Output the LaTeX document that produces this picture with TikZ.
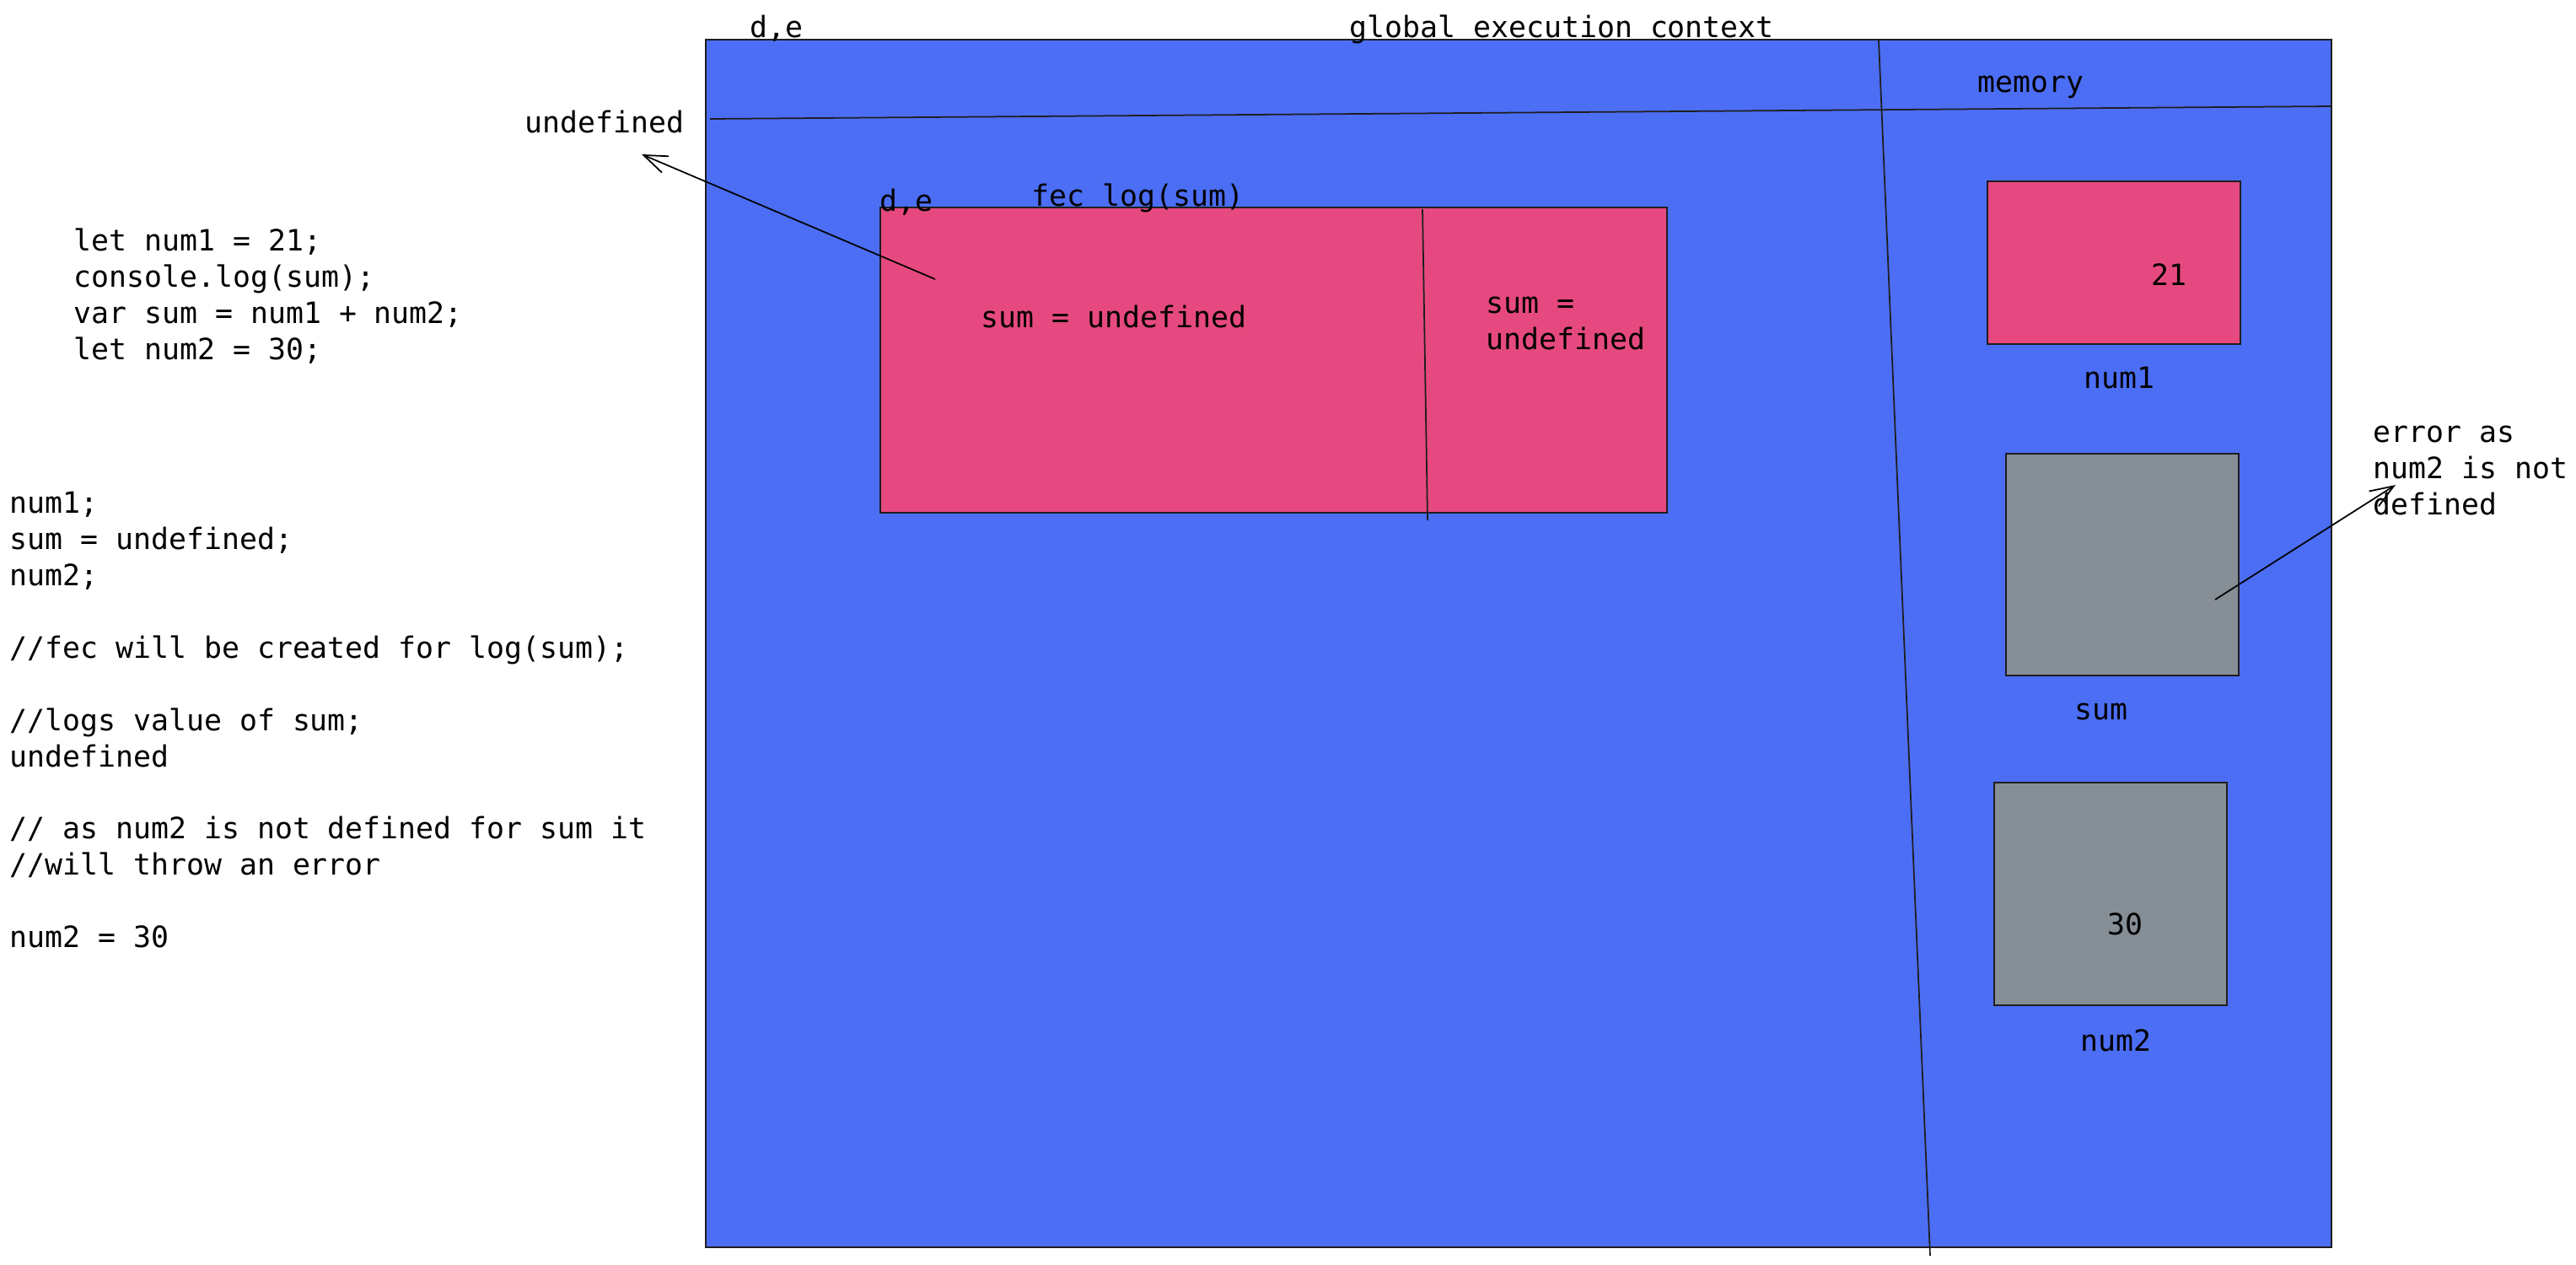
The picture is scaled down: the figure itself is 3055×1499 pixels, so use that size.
\documentclass[tikz,border=0pt]{standalone}
\usepackage{fontspec}
\setmonofont{DejaVu Sans Mono}
\usepackage{tikz}
\usetikzlibrary{arrows.meta}
\usetikzlibrary{positioning}
\definecolor{gecblue}{HTML}{4C6EF5}
\definecolor{fecpink}{HTML}{E64980}
\definecolor{memgray}{HTML}{868E96}
\definecolor{inkline}{HTML}{1E1E1E}
\newcommand{\codefont}{\ttfamily\fontsize{9.9}{12.2}\selectfont}
\tikzset{
  box/.style={draw=inkline, line width=0.6pt, anchor=north west, inner sep=0pt},
  txt/.style={font=\codefont, inner sep=0pt, anchor=base west},
  para/.style={font=\codefont, inner sep=0pt, anchor=north west, align=left},
  divider/.style={draw=inkline, line width=0.5pt},
  pointer/.style={draw=black, line width=0.5pt, -{Straight Barb[length=0.28cm,width=0.21cm]}},
}

\begin{document}
\begin{tikzpicture}[x=0.01cm, y=-0.01cm]
  \useasboundingbox (0,0) rectangle (3055,1499);

  % global execution context with its memory column
  \node[box, fill=gecblue, minimum width=19.27cm, minimum height=14.31cm] (gec) at (836,46) {};
  \draw[divider] (842,141) -- (2764,126);
  \draw[divider] (2228,48) -- (2289,1489);
  \node[txt] (gecde) at (889,44) {d,e};
  \node[txt] (gectitle) at (1600,44) {global execution context};
  \node[txt] (memtitle) at (2345,109) {memory};

  % fec for log(sum)
  \node[box, fill=fecpink, minimum width=9.32cm, minimum height=3.62cm] (fec) at (1043,245) {};
  \draw[divider] (1687,248) -- (1693,617);
  \node[txt] (fecde) at (1043,250) {d,e};
  \node[txt] (fectitle) at (1223,244) {fec log(sum)};
  \node[txt] (fecvar) at (1163,388) {sum = undefined};
  \node[para] (fecmem) at (1762,341) {\strut sum =\\undefined};

  % memory cells
  \node[box, fill=fecpink, minimum width=3.00cm, minimum height=1.93cm] (num1box) at (2356,214) {};
  \node[box, fill=memgray, minimum width=2.76cm, minimum height=2.63cm] (sumbox) at (2378,537) {};
  \node[box, fill=memgray, minimum width=2.76cm, minimum height=2.64cm] (num2box) at (2364,927) {};
  \node[txt] (val21) at (2551,338) {21};
  \node[txt] (lblnum1) at (2471,460) {num1};
  \node[txt] (lblsum) at (2460,853) {sum};
  \node[txt] (val30) at (2499,1108) {30};
  \node[txt] (lblnum2) at (2467,1246) {num2};

  % notes outside
  \node[txt] (undeftop) at (622,157) {undefined};
  \node[para] (errnote) at (2814,494) {\strut error as\\num2 is not\\defined};
  \node[para] (srccode) at (87,267) {\strut let num1 = 21;\\console.log(sum);\\var sum = num1 + num2;\\let num2 = 30;};
  \node[para] (notes) at (11,578) {\strut num1;\\sum = undefined;\\num2;\\[12.2pt]//fec will be created for log(sum);\\[12.2pt]//logs value of sum;\\undefined\\[12.2pt]// as num2 is not defined for sum it\\//will throw an error\\[12.2pt]num2 = 30};

  % pointers
  \coordinate (fecpin) at (1109,331);
  \coordinate (undefpin) at (761,183);
  \draw[pointer] (fecpin) -- (undefpin);
  \coordinate (sumpin) at (2627,711);
  \coordinate (errpin) at (2841,575);
  \draw[pointer] (sumpin) -- (errpin);
\end{tikzpicture}
\end{document}
